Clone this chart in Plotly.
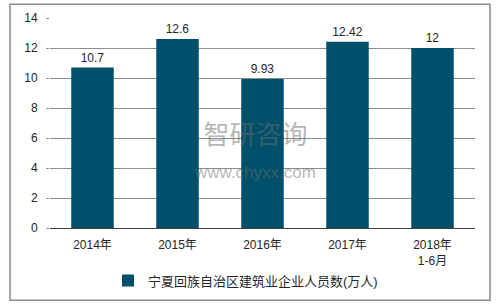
import plotly.graph_objects as go

categories = ["2014年", "2015年", "2016年", "2017年", "2018年<br>1-6月"]
values = [10.7, 12.6, 9.93, 12.42, 12]
labels = ["10.7", "12.6", "9.93", "12.42", "12"]
series_name = "宁夏回族自治区建筑业企业人员数(万人)"
y_ticks = [0, 2, 4, 6, 8, 10, 12, 14]

FONT = "Arial, 'Liberation Sans', 'Noto Sans CJK SC', sans-serif"

fig = go.Figure()
fig.add_trace(go.Bar(
    x=categories, y=values, name=series_name,
    marker=dict(color="#00506B", line=dict(width=0)),
    text=labels, textposition="outside", cliponaxis=False,
    textfont=dict(size=12, color="#262626", family=FONT),
    width=0.5,
))

fig.update_layout(
    width=496, height=307,
    margin=dict(l=50, r=21, t=18, b=77),
    paper_bgcolor="white", plot_bgcolor="white",
    font=dict(family=FONT, size=12, color="#262626"),
    showlegend=True,
    legend=dict(orientation="h", x=(108 - 50) / 425, xanchor="left", y=-0.25, yanchor="middle",
                font=dict(size=13, color="#262626"), itemwidth=30, tracegroupgap=0),
    bargap=0.5,
    xaxis=dict(showgrid=False, showline=True, linecolor="#404040", linewidth=1,
               ticks="", tickfont=dict(size=12), ticklabelstandoff=6),
    yaxis=dict(range=[0, 14], tickvals=y_ticks, showgrid=True, gridcolor="#8c8c8c",
               gridwidth=1, zeroline=False, showline=False, ticks="outside",
               ticklen=3, tickcolor="#8c8c8c", tickfont=dict(size=12),
               ticklabelstandoff=6),
    shapes=[dict(type="rect", xref="paper", yref="paper",
                 x0=-40/425, x1=(490-50)/425, y0=(230-303)/212, y1=(230-4)/212,
                 line=dict(color="#8c8c8c", width=1.5), fillcolor="rgba(0,0,0,0)",
                 layer="below")],
    annotations=[
        dict(text="智研咨询<br><span style='font-size:17px'>www.chyxx.com</span>",
             x=(255 - 50) / 425, y=(230 - 152) / 212, xref="paper", yref="paper",
             showarrow=False, align="center",
             font=dict(size=26, color="rgba(110,110,110,0.5)")),
    ],
)

fig.write_html("out.html")
